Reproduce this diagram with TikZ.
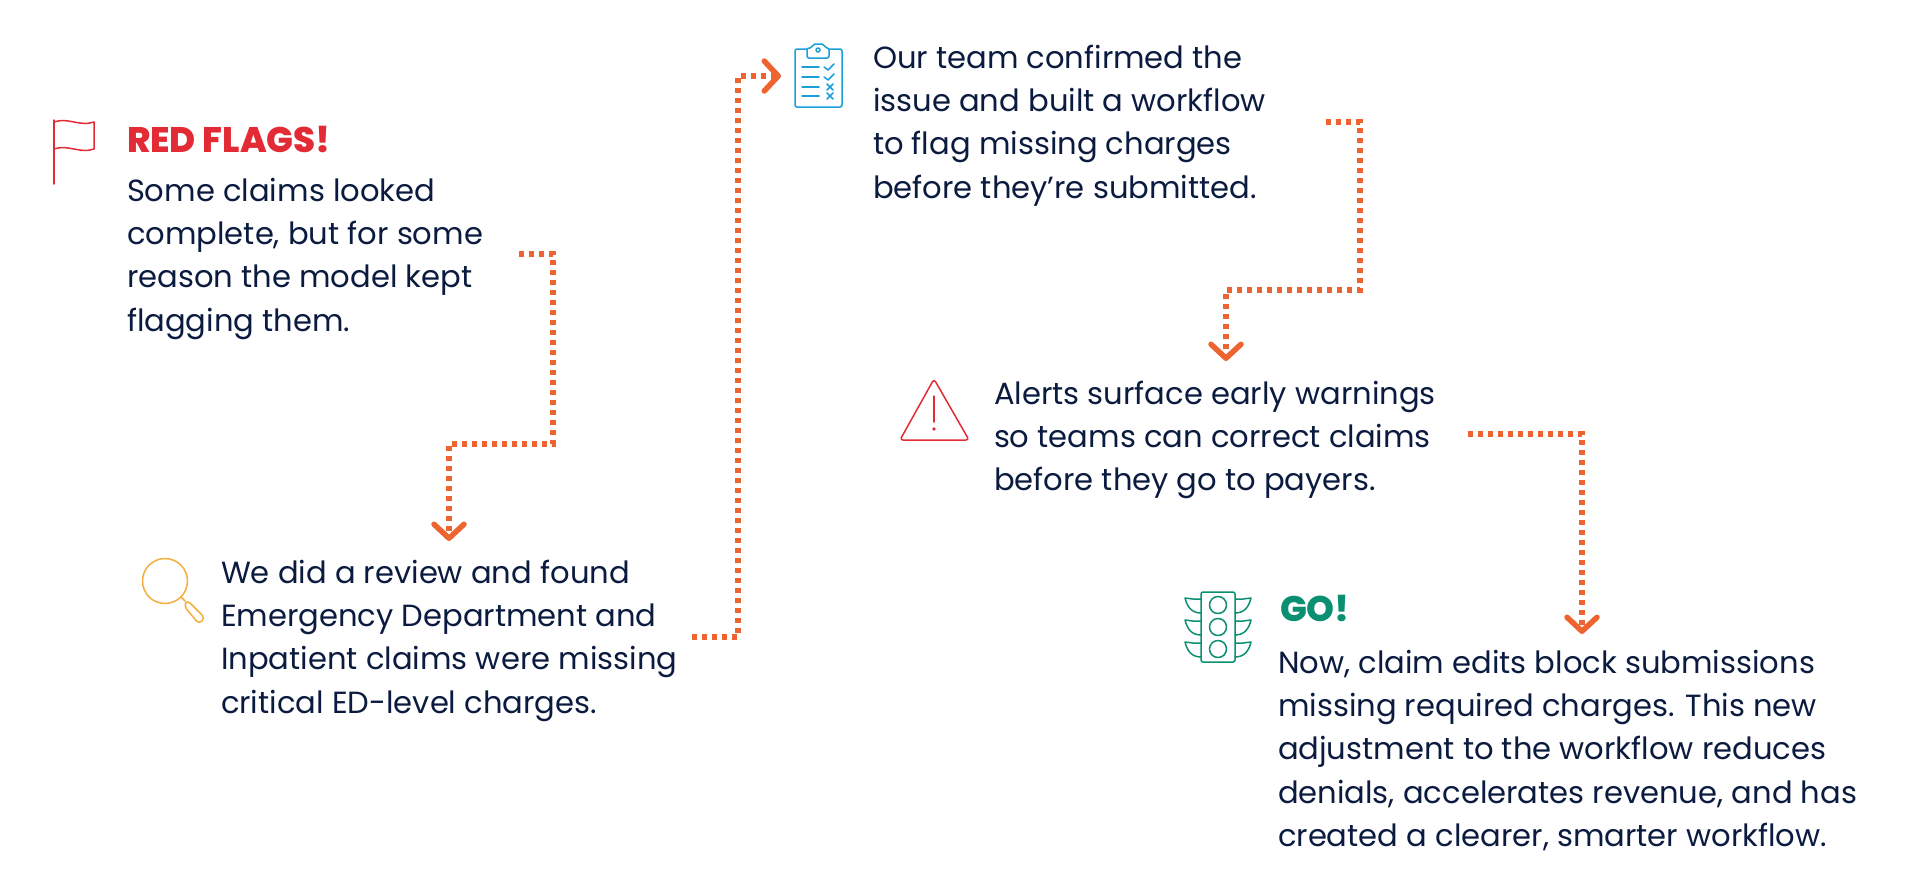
\documentclass[tikz,border=0pt]{standalone}
\usepackage{fontspec}
\usetikzlibrary{arrows.meta}
\setmainfont{Poppins}[BoldFont={Poppins ExtraBold}]
\definecolor{inktext}{HTML}{0B1B3F}
\definecolor{flagred}{HTML}{E32B36}
\definecolor{dotorange}{HTML}{EE6430}
\definecolor{gogreen}{HTML}{0B8F72}
\definecolor{lensyellow}{HTML}{F5AE3D}
\definecolor{clipblue}{HTML}{1A9FD8}
\newcommand{\bodyfont}{\fontsize{30.6}{43.4}\selectfont}
\newcommand{\headfont}{\fontsize{35.5}{36}\selectfont\bfseries}
\tikzset{
  bodytext/.style={anchor=base west,inner sep=0pt,outer sep=0pt,text=inktext,font=\bodyfont},
  headtext/.style={anchor=base west,inner sep=0pt,outer sep=0pt,font=\headfont},
  dotline/.style={draw=dotorange,line width=5.2pt,dash pattern=on 5.2pt off 4.8pt,
    -{Straight Barb[length=14pt,width=30pt,line width=5.5pt,round]}},
  iconline/.style={line width=1.5pt,line join=round,line cap=round},
}
\begin{document}
\begin{tikzpicture}[x=1pt,y=-1pt]
\useasboundingbox (0,0) rectangle (1920,879);
% texts
\node[headtext,text=flagred] (redhead) at (127,152) {RED FLAGS!};
\node[bodytext] (redbody) at (127,201) {\vtop{\hbox{Some claims looked}\hbox{complete, but for some}\hbox{reason the model kept}\hbox{flagging them.}}};
\node[bodytext] (review) at (221,583) {\vtop{\hbox{We did a review and found}\hbox{Emergency Department and}\hbox{Inpatient claims were missing}\hbox{critical ED-level charges.}}};
\node[bodytext] (team) at (873,68) {\vtop{\hbox{Our team confirmed the}\hbox{issue and built a workflow}\hbox{to flag missing charges}\hbox{before they’re submitted.}}};
\node[bodytext] (alerts) at (994,404) {\vtop{\hbox{Alerts surface early warnings}\hbox{so teams can correct claims}\hbox{before they go to payers.}}};
\node[headtext,text=gogreen] (gohead) at (1280,621) {GO!};
\node[bodytext] (gobody) at (1278,673) {\vtop{\hbox{Now, claim edits block submissions}\hbox{missing required charges. This new}\hbox{adjustment to the workflow reduces}\hbox{denials, accelerates revenue, and has}\hbox{created a clearer, smarter workflow.}}};
% connectors
\coordinate (a1) at (519,254); \coordinate (a2) at (449,541);
\coordinate (b1) at (692,637); \coordinate (b2) at (781,76);
\coordinate (c1) at (1326,122); \coordinate (c2) at (1226,361);
\coordinate (d1) at (1468,434); \coordinate (d2) at (1582,634);
\draw[dotline] (a1) -- (553,254) -- (553,444) -- (449,444) -- (a2);
\draw[dotline] (b1) -- (738,637) -- (738,76) -- (b2);
\draw[dotline] (c1) -- (1360,122) -- (1360,290) -- (1226,290) -- (c2);
\draw[dotline] (d1) -- (1582,434) -- (d2);
% flag
\draw[iconline,flagred] (54,120) -- (54,184);
\draw[iconline,flagred] (54,122) .. controls (68,117) and (80,127) .. (94,122) -- (94,149) .. controls (80,154) and (68,144) .. (54,149);
% magnifier
\draw[iconline,lensyellow] (165,581) circle (22.5);
\draw[iconline,lensyellow] (181,597) -- (185,601);
\draw[iconline,lensyellow,rounded corners=4pt] (187,600) -- (205,618) -- (199,624) -- (184,606) -- cycle;
% clipboard
\draw[iconline,clipblue,rounded corners=2pt] (807,49) -- (795,49) -- (795,107) -- (842,107) -- (842,49) -- (829,49);
\draw[iconline,clipblue,rounded corners=2pt] (807,58) -- (807,48) -- (812,48) -- (813,44) -- (824,44) -- (825,48) -- (829,48) -- (829,58) -- cycle;
\draw[iconline,clipblue] (818,50) circle (2);
\foreach \yy in {67,77,87,96} {\draw[iconline,clipblue] (802,\yy) -- (819,\yy);}
\foreach \yy in {67,77} {\draw[iconline,clipblue] (824,\yy) -- (828,\yy+3) -- (834,\yy-3);}
\foreach \yy in {87,96} {\draw[iconline,clipblue] (827,\yy-3) -- (833,\yy+3) (833,\yy-3) -- (827,\yy+3);}
% warning
\draw[iconline,flagred,rounded corners=3pt] (934,379) -- (969,440) -- (900,440) -- cycle;
\draw[iconline,flagred] (934,396) -- (934,422);
\fill[flagred] (934,429) circle (1.8);
% traffic light
\draw[iconline,gogreen,rounded corners=2pt] (1201,592) rectangle (1235,662);
\foreach \yy in {605,627,649} {
  \draw[iconline,gogreen] (1218,\yy) circle (8.5);
  \draw[iconline,gogreen] (1201,\yy-6) -- (1193,\yy-6) -- (1185,\yy-7) .. controls (1187,\yy+1) and (1191,\yy+8) .. (1201,\yy+8);
  \draw[iconline,gogreen] (1235,\yy-6) -- (1243,\yy-6) -- (1251,\yy-7) .. controls (1249,\yy+1) and (1245,\yy+8) .. (1235,\yy+8);
}
\end{tikzpicture}
\end{document}
